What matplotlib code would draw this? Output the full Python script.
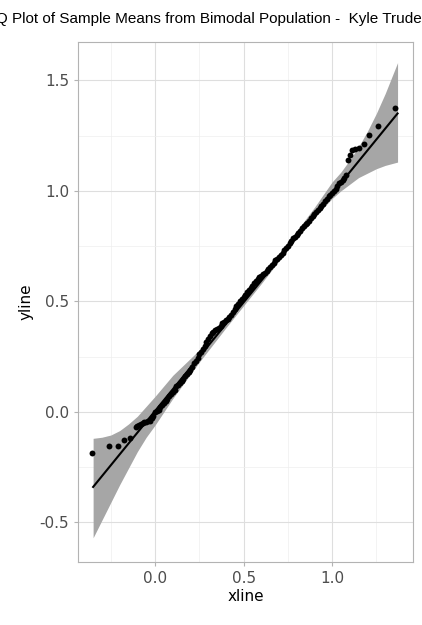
import matplotlib
matplotlib.use("Agg")
import matplotlib.pyplot as plt

# QQ points (theoretical, sample)
qx = [-0.356, -0.26, -0.21, -0.175, -0.14, -0.11, -0.09, -0.07, -0.05, -0.03, -0.01, 0.0, 0.02,
      0.04, 0.06, 0.08, 0.10, 0.12, 0.14, 0.16, 0.18, 0.20, 0.22, 0.24, 0.26, 0.28, 0.30, 0.32,
      0.34, 0.36, 0.38, 0.40, 0.42, 0.44, 0.46, 0.48, 0.50, 0.52, 0.54, 0.56, 0.58, 0.60, 0.62,
      0.64, 0.66, 0.68, 0.70, 0.72, 0.74, 0.76, 0.78, 0.80, 0.82, 0.84, 0.86, 0.88, 0.90, 0.92,
      0.94, 0.96, 0.98, 1.00, 1.02, 1.04, 1.06, 1.08, 1.09, 1.10, 1.113, 1.13, 1.153, 1.18,
      1.21, 1.26, 1.356]
qy = [-0.186, -0.154, -0.154, -0.127, -0.118, -0.07, -0.06, -0.05, -0.045, -0.04, -0.02, 0.0, 0.01,
      0.03, 0.05, 0.07, 0.09, 0.115, 0.13, 0.15, 0.17, 0.19, 0.22, 0.245, 0.27, 0.30, 0.33, 0.355,
      0.37, 0.38, 0.40, 0.415, 0.43, 0.45, 0.48, 0.50, 0.52, 0.54, 0.56, 0.585, 0.60, 0.615, 0.63,
      0.645, 0.665, 0.685, 0.70, 0.72, 0.74, 0.765, 0.785, 0.80, 0.82, 0.84, 0.855, 0.875, 0.895, 0.915,
      0.93, 0.955, 0.975, 0.99, 1.01, 1.035, 1.05, 1.07, 1.14, 1.163, 1.186, 1.19, 1.195, 1.213,
      1.253, 1.294, 1.376]
# extra points in the dense middle section
qx2 = [-0.10, -0.08, -0.06, -0.04, -0.02, 0.01, 0.03, 0.05, 0.07, 0.09, 0.11, 0.13, 0.15, 0.17,
       0.19, 0.21, 0.23, 0.25, 0.27, 0.29, 0.31, 0.33, 0.35, 0.37, 0.39, 0.41, 0.43, 0.45, 0.47,
       0.49, 0.51, 0.53, 0.55, 0.57, 0.59, 0.61, 0.63, 0.65, 0.67, 0.69, 0.71, 0.73, 0.75, 0.77,
       0.79, 0.81, 0.83, 0.85, 0.87, 0.89, 0.91, 0.93, 0.95, 0.97, 0.99, 1.01, 1.03, 1.05, 1.07]
qy2 = [-0.065, -0.055, -0.048, -0.042, -0.03, 0.005, 0.02, 0.04, 0.06, 0.08, 0.10, 0.12, 0.14, 0.16,
       0.18, 0.205, 0.23, 0.26, 0.285, 0.315, 0.345, 0.362, 0.375, 0.39, 0.405, 0.42, 0.44, 0.465, 0.49,
       0.51, 0.53, 0.55, 0.57, 0.592, 0.608, 0.622, 0.638, 0.655, 0.675, 0.692, 0.71, 0.73, 0.752, 0.775,
       0.793, 0.81, 0.83, 0.848, 0.865, 0.885, 0.905, 0.922, 0.942, 0.965, 0.982, 1.0, 1.022, 1.042, 1.06]

line_x = [-0.35, 1.37]
line_y = [-0.34, 1.35]

band_x = [-0.35, -0.3, -0.25, -0.2, -0.15, -0.1, -0.05, 0.0, 0.1, 0.25, 0.4, 0.5, 0.6, 0.75,
          0.9, 1.0, 1.05, 1.1, 1.15, 1.2, 1.25, 1.3, 1.37]
band_lo = [-0.57, -0.49, -0.41, -0.33, -0.255, -0.18, -0.115, -0.06, 0.06, 0.225, 0.38, 0.48, 0.58, 0.735,
           0.88, 0.965, 1.0, 1.03, 1.06, 1.08, 1.10, 1.115, 1.13]
band_hi = [-0.12, -0.115, -0.105, -0.085, -0.055, -0.02, 0.025, 0.07, 0.165, 0.28, 0.42, 0.52, 0.62, 0.765,
           0.925, 1.04, 1.085, 1.14, 1.2, 1.27, 1.35, 1.44, 1.58]

fig = plt.figure(figsize=(4.22, 6.25), dpi=100)
ax = fig.add_axes([0.185, 0.101, 0.794, 0.832])
ax.fill_between(band_x, band_lo, band_hi, color="#a6a6a6", lw=0, zorder=1)
ax.plot(line_x, line_y, color="black", lw=1.5, zorder=2)
ax.scatter(qx + qx2, qy + qy2, s=18, color="black", zorder=3, lw=0)

ax.set_xlim(-0.435, 1.458)
ax.set_ylim(-0.679, 1.674)
ax.set_xticks([0.0, 0.5, 1.0])
ax.set_yticks([-0.5, 0.0, 0.5, 1.0, 1.5])
ax.set_xticks([-0.25, 0.25, 0.75, 1.25], minor=True)
ax.set_yticks([-0.25, 0.25, 0.75, 1.25], minor=True)
ax.set_xticklabels(["0.0", "0.5", "1.0"])
ax.set_yticklabels(["-0.5", "0.0", "0.5", "1.0", "1.5"])
ax.grid(True, which="major", color="#dedede", lw=0.8)
ax.grid(True, which="minor", color="#eeeeee", lw=0.5)
ax.set_axisbelow(True)
for s in ax.spines.values():
    s.set_color("#b3b3b3")
    s.set_linewidth(0.8)
ax.tick_params(which="both", length=3, color="#b3b3b3", labelsize=11, labelcolor="#4d4d4d")
ax.tick_params(which="minor", length=0)
ax.set_xlabel("xline", fontsize=11, labelpad=2)
ax.set_ylabel("yline", fontsize=11, labelpad=4)

fig.text(0.5, 0.963, "QQ Plot of Sample Means from Bimodal Population -  Kyle Trudeau",
         fontsize=11, ha="center", va="baseline", family=["Liberation Sans", "DejaVu Sans"])

fig.savefig("out.png", dpi=100)
